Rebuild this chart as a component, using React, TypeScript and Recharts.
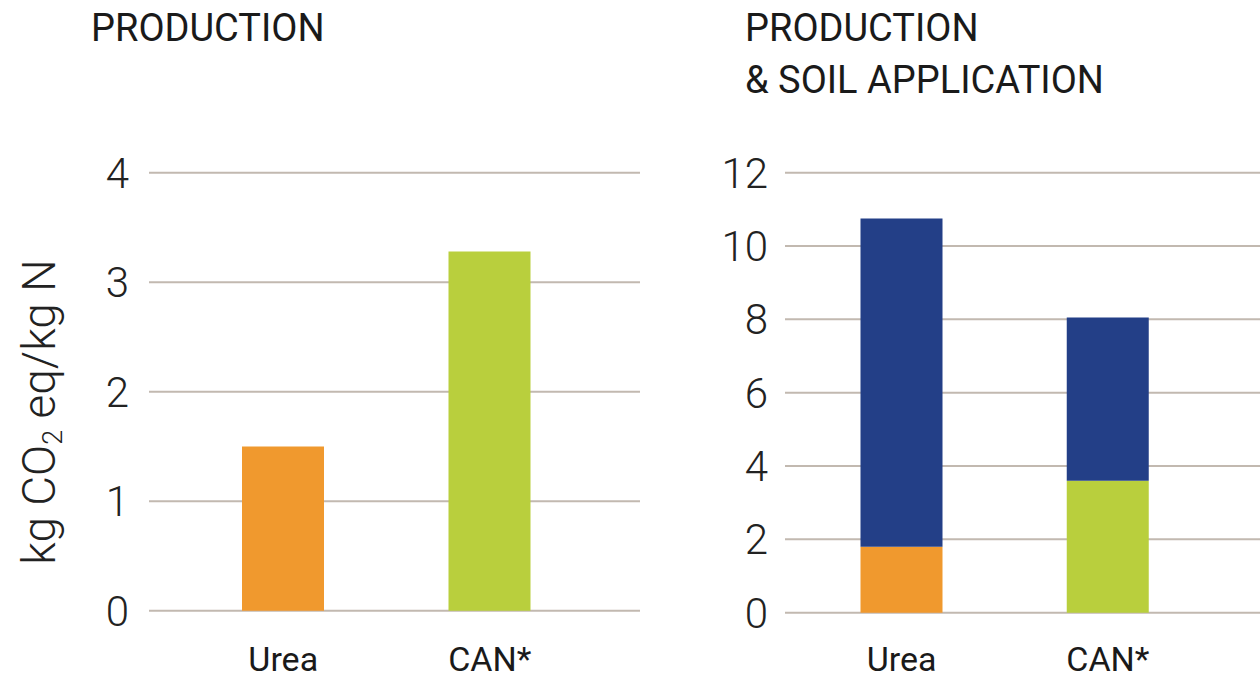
import React from 'react';
import { BarChart, Bar, XAxis, YAxis, CartesianGrid, Cell } from 'recharts';

const categories = ['Urea', 'CAN*'];
const productionOnly = [1.5, 3.28];
const productionPart = [1.8, 3.6];
const soilPart = [8.95, 4.45];

const leftTicks = [0, 1, 2, 3, 4];
const rightTicks = [0, 2, 4, 6, 8, 10, 12];

const productColors = ['#F0992E', '#B9CF3D'];
const soilColor = '#233F87';
const gridColor = '#C2B9B0';

const leftData = categories.map((name, i) => ({ name, production: productionOnly[i] }));
const rightData = categories.map((name, i) => ({
  name,
  production: productionPart[i],
  soil: soilPart[i],
}));

const numberTick = { fontSize: 42, fontFamily: 'Roboto', fontWeight: 300, fill: '#222' };
const categoryTick = { fontSize: 34, fontFamily: 'Roboto', fill: '#1a1a1a' };

const titleStyle: React.CSSProperties = {
  position: 'absolute',
  fontFamily: 'Roboto',
  fontSize: 38,
  lineHeight: '52px',
  color: '#1a1a1a',
  whiteSpace: 'nowrap',
};

export default function App() {
  return (
    <div style={{ position: 'absolute', left: 0, top: 0, width: 1260, height: 679, background: '#fff', overflow: 'hidden' }}>
      <div style={{ ...titleStyle, left: 91, top: 2 }}>PRODUCTION</div>
      <div style={{ ...titleStyle, left: 745, top: 2 }}>
        PRODUCTION
        <br />
        &amp; SOIL APPLICATION
      </div>

      <div
        style={{
          position: 'absolute',
          left: 40,
          top: 412,
          transform: 'translate(-50%, -50%) rotate(-90deg)',
          fontFamily: 'Roboto',
          fontWeight: 300,
          fontSize: 46,
          color: '#222',
          whiteSpace: 'nowrap',
        }}
      >
        kg CO<sub style={{ fontSize: 27, verticalAlign: '-7px' }}>2</sub> eq/kg N
      </div>

      <div style={{ position: 'absolute', left: 0, top: 0 }}>
        <BarChart width={660} height={679} data={leftData} margin={{ top: 172.7, right: 20, bottom: 8.3, left: 89 }}>
          <CartesianGrid horizontal vertical={false} stroke={gridColor} strokeWidth={2} />
          <XAxis
            dataKey="name"
            axisLine={false}
            tickLine={false}
            tickSize={0}
            tickMargin={36}
            height={60}
            padding={{ left: 31, right: 47 }}
            tick={categoryTick}
            interval={0}
          />
          <YAxis
            domain={[0, 4]}
            ticks={leftTicks}
            axisLine={false}
            tickLine={false}
            tickSize={0}
            tickMargin={20}
            width={60}
            tick={numberTick}
            interval={0}
          />
          <Bar dataKey="production" barSize={82} isAnimationActive={false}>
            {leftData.map((d, i) => (
              <Cell key={d.name} fill={productColors[i]} />
            ))}
          </Bar>
        </BarChart>
      </div>

      <div style={{ position: 'absolute', left: 660, top: 0 }}>
        <BarChart width={600} height={679} data={rightData} margin={{ top: 172.7, right: 0, bottom: 6.3, left: 65 }}>
          <CartesianGrid horizontal vertical={false} stroke={gridColor} strokeWidth={2} />
          <XAxis
            dataKey="name"
            axisLine={false}
            tickLine={false}
            tickSize={0}
            tickMargin={34}
            height={60}
            padding={{ left: 13.5, right: 49 }}
            tick={categoryTick}
            interval={0}
          />
          <YAxis
            domain={[0, 12]}
            ticks={rightTicks}
            axisLine={false}
            tickLine={false}
            tickSize={0}
            tickMargin={17}
            width={60}
            tick={numberTick}
            interval={0}
          />
          <Bar dataKey="production" stackId="a" barSize={82} isAnimationActive={false}>
            {rightData.map((d, i) => (
              <Cell key={d.name} fill={productColors[i]} />
            ))}
          </Bar>
          <Bar dataKey="soil" stackId="a" barSize={82} fill={soilColor} isAnimationActive={false} />
        </BarChart>
      </div>
    </div>
  );
}
